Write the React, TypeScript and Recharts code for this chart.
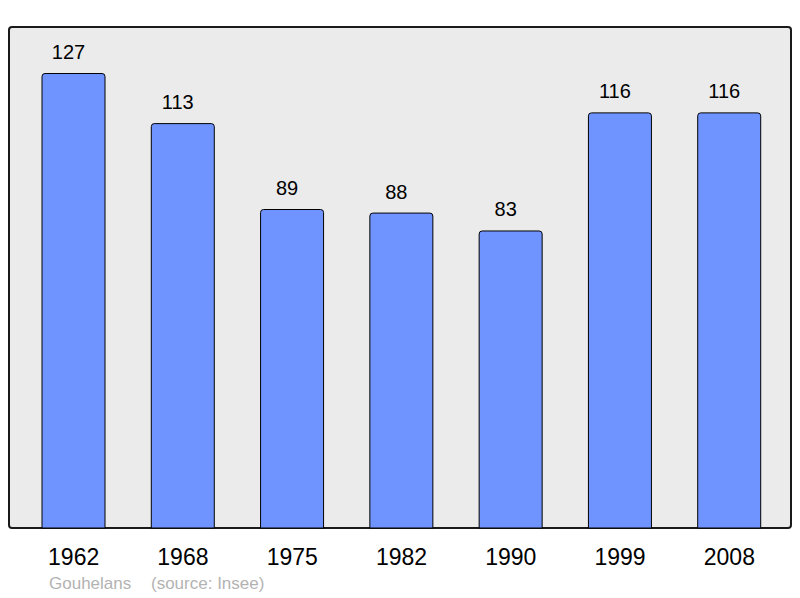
import React from 'react';
import { BarChart, Bar, XAxis, YAxis, LabelList } from 'recharts';

// Population by census year
const years = ['1962', '1968', '1975', '1982', '1990', '1999', '2008'];
const population = [127, 113, 89, 88, 83, 116, 116];

const place = 'Gouhelans';
const source = '(source: Insee)';

const chartData = years.map((year, i) => ({ year, value: population[i] }));

const font = '"Liberation Sans", Arial, sans-serif';

export default function App() {
  return (
    <div style={{ position: 'absolute', left: 0, top: 0, width: 800, height: 598, fontFamily: font, background: '#fff' }}>
      {/* plot frame */}
      <div
        style={{
          position: 'absolute',
          left: 8,
          top: 26,
          width: 784,
          height: 503,
          boxSizing: 'border-box',
          border: '2px solid #1a1a1a',
          borderRadius: 4,
          background: '#ebebeb',
        }}
      />
      <div style={{ position: 'absolute', left: 0, top: 0 }}>
        <BarChart
          width={800}
          height={598}
          data={chartData}
          margin={{ top: 27, right: 9, bottom: 0, left: 9 }}
        >
          <XAxis
            dataKey="year"
            height={70}
            axisLine={false}
            tickLine={false}
            tickSize={6}
            tickMargin={15}
            padding={{ left: 10, right: 7 }}
            tick={{ fontSize: 23, fill: '#000', fontFamily: font }}
          />
          <YAxis hide domain={[0, 140]} />
          <Bar
            dataKey="value"
            fill="#7094ff"
            stroke="#000"
            strokeWidth={1}
            barSize={63}
            radius={[3, 3, 0, 0]}
            isAnimationActive={false}
          >
            <LabelList
              dataKey="value"
              position="top"
              offset={14.5}
              dx={-5}
              style={{ fontSize: 20, fill: '#000', fontFamily: font }}
            />
          </Bar>
        </BarChart>
      </div>
      <div
        style={{
          position: 'absolute',
          left: 49,
          top: 574,
          fontSize: 17,
          color: '#b3b3b3',
          whiteSpace: 'pre',
        }}
      >
        {place}
      </div>
      <div
        style={{
          position: 'absolute',
          left: 151,
          top: 574,
          fontSize: 17,
          color: '#b3b3b3',
          whiteSpace: 'pre',
        }}
      >
        {source}
      </div>
    </div>
  );
}
